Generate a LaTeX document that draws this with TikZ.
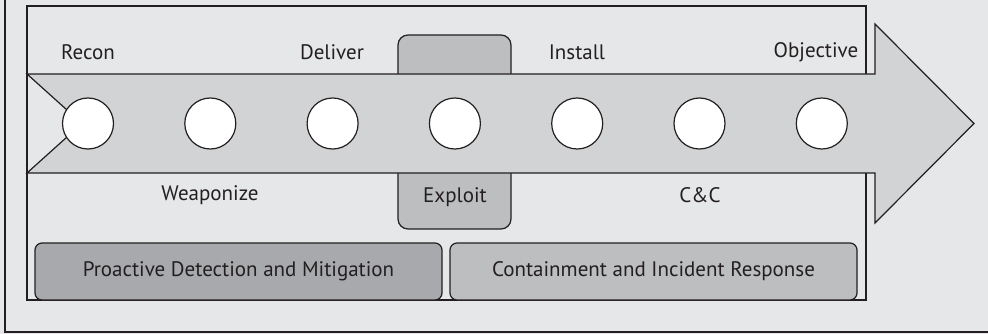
\documentclass[tikz,border=0pt]{standalone}
\usepackage{fontspec}
\setmainfont{PT Sans}
\usetikzlibrary{positioning}
\definecolor{pagebg}{HTML}{E6E7E8}
\definecolor{bandgray}{HTML}{D1D3D4}
\definecolor{midgray}{HTML}{BCBEC0}
\definecolor{darkgray}{HTML}{A7A9AC}
\definecolor{inkgray}{HTML}{231F20}
\begin{document}
\begin{tikzpicture}[x=1pt, y=-1pt, line width=1.2pt, draw=inkgray,
    stage/.style={circle, draw=inkgray, fill=white, minimum size=51pt, inner sep=0pt},
    lbl/.style={font=\fontsize{21}{24}\selectfont, text=inkgray, inner sep=0pt},
    bar/.style={rectangle, draw=inkgray, rounded corners=7pt, minimum height=57pt,
      font=\fontsize{21}{24}\selectfont, text=inkgray, inner sep=0pt}
  ]
    \useasboundingbox (0,0) rectangle (988,334);
    % page background and frames
    \fill[pagebg] (0,0) rectangle (988,334);
    \draw[inkgray] (5,-10) rectangle (1000,332);
    \draw[inkgray] (27,6) rectangle (866,300);
    % exploit tab behind the arrow
    \draw[inkgray, fill=midgray, rounded corners=10pt] (398,35) rectangle (511,229);
    % kill chain arrow
    \draw[inkgray, fill=bandgray] (27,74) -- (875,74) -- (875,24) -- (974,123.5)
      -- (875,223) -- (875,173) -- (27,173) -- (82,123.5) -- cycle;
    \foreach \i in {1,...,7} {
      \node[stage] (c\i) at ({88+122.3*(\i-1)},123.5) {};
    }
    % stage labels
    \node[lbl] (recon) at (88,52) {Recon};
    \node[lbl] (weaponize) at (210,195) {Weaponize};
    \node[lbl] (deliver) at (332,52) {Deliver};
    \node[lbl] (exploit) at (455,197) {Exploit};
    \node[lbl] (install) at (577,52) {Install};
    \node[lbl] (cnc) at (700,195) {C\&C};
    \node[lbl] (objective) at (816,52) {Objective};
    % response bars
    \node[bar, fill=darkgray, minimum width=407pt] (proactive) at (238.5,271.5)
      {Proactive Detection and Mitigation};
    \node[bar, fill=midgray, minimum width=407pt] (contain) at (653.5,271.5)
      {Containment and Incident Response};
\end{tikzpicture}
\end{document}
